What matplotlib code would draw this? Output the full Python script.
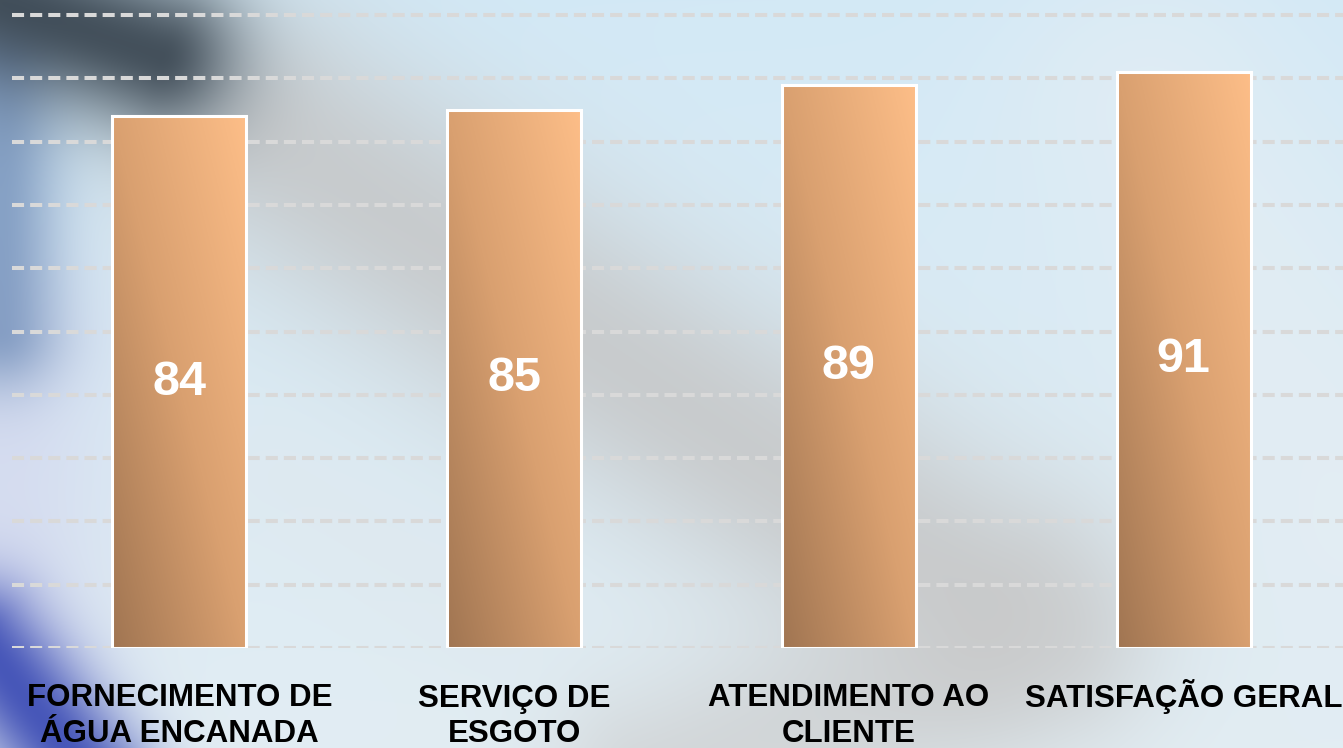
import matplotlib
matplotlib.use("Agg")
import matplotlib.pyplot as plt
import numpy as np
from matplotlib.colors import LinearSegmentedColormap, to_rgb
from matplotlib import transforms

# Dados
categorias = ["FORNECIMENTO DE\nÁGUA ENCANADA", "SERVIÇO DE\nESGOTO",
              "ATENDIMENTO AO\nCLIENTE", "SATISFAÇÃO GERAL"]
valores = [84, 85, 89, 91]
y_ticks = list(range(0, 101, 10))

W, H = 1343, 748
plt.rcParams['font.family'] = ['Liberation Sans', 'DejaVu Sans']

# Fundo desfocado (decorativo)
yy, xx = np.mgrid[0:H, 0:W].astype(float)

def dist_seg(x0, y0, x1, y1):
    dx, dy = x1 - x0, y1 - y0
    t = ((xx - x0) * dx + (yy - y0) * dy) / (dx * dx + dy * dy)
    t = np.clip(t, 0, 1)
    return np.hypot(xx - (x0 + t * dx), yy - (y0 + t * dy))

def camada(img, cor, mascara):
    c = np.array(to_rgb(cor))
    return img * (1 - mascara[..., None]) + c * mascara[..., None]

topo = np.array(to_rgb("#d3e9f6"))
base = np.array(to_rgb("#e2edf3"))
f = (yy / H)[..., None]
img = topo * (1 - f) + base * f
img = camada(img, "#e6eef3", 0.6 * np.exp(-(dist_seg(1150, 100, 1343, 500) / 150) ** 2))
img = camada(img, "#c4c4c4", 0.8 * np.exp(-(dist_seg(280, 140, 980, 600) / 130) ** 2))
img = camada(img, "#c8c8c8", 0.6 * np.exp(-(dist_seg(650, 780, 1050, 640) / 100) ** 2))
img = camada(img, "#dfe8ee", 0.5 * np.exp(-(dist_seg(280, 480, 480, 620) / 70) ** 2))
img = camada(img, "#d2d6ee", 0.7 * np.exp(-(dist_seg(0, 360, 0, 640) / 110) ** 2))
img = camada(img, "#6c8ab6", 0.75 * np.exp(-(dist_seg(0, 60, 0, 330) / 60) ** 2))
img = camada(img, "#38444f", 0.92 * np.exp(-(dist_seg(0, 0, 160, 55) / 80) ** 2))
img = camada(img, "#4050b6", 0.95 * np.exp(-(dist_seg(-20, 640, 90, 780) / 60) ** 2))
img = np.clip(img, 0, 1)

fig = plt.figure(figsize=(W / 100, H / 100), dpi=100)
fig.figimage(img, 0, 0, origin='upper', zorder=-10)

ax = fig.add_axes([12 / W, 100 / H, 1 - 12 / W, 648 / H])
ax.set_facecolor('none')
for s in ax.spines.values():
    s.set_visible(False)

x = np.arange(len(valores))
largura = 0.4
barras = ax.bar(x, valores, width=largura, facecolor='none',
                edgecolor='white', linewidth=2.2, zorder=3)

cmap = LinearSegmentedColormap.from_list('laranja', ["#a07552", "#d9a070", "#fdbe88"])
u = np.linspace(0, 1, 200)
grad = (u[None, :] + u[:, None]) / 2
for b in barras:
    im = ax.imshow(grad, cmap=cmap, origin='lower', aspect='auto',
                   extent=[b.get_x(), b.get_x() + b.get_width(), 0, b.get_height()],
                   zorder=2, interpolation='bilinear')
    im.set_clip_path(b)

for xi, v in zip(x, valores):
    ax.text(xi, v / 2, str(v), ha='center', va='center', color='white',
            fontsize=35, fontweight='bold', zorder=4)

ax.set_xlim(-0.5, (W - 179.5) / 334.7)
ax.set_ylim(0, 100 + 15 / 6.33)
ax.set_yticks(y_ticks)
ax.set_yticklabels([])
ax.set_xticks([])
ax.tick_params(left=False, bottom=False)
ax.grid(axis='y', color='#d9d9d9', linewidth=2.9, linestyle=(0, (3, 1.5)), zorder=1)
ax.set_axisbelow(True)

# rótulos das categorias, uma linha de cada vez
trans = transforms.blended_transform_factory(ax.transData, ax.transAxes)
for xi, c in zip(x, categorias):
    for i, linha in enumerate(c.split("\n")):
        ax.text(xi, -(58.5 + 36 * i) / 648, linha, transform=trans,
                ha='center', va='baseline', fontsize=22.5, fontweight='bold',
                color='black', clip_on=False)

fig.savefig('out.png', dpi=100)
